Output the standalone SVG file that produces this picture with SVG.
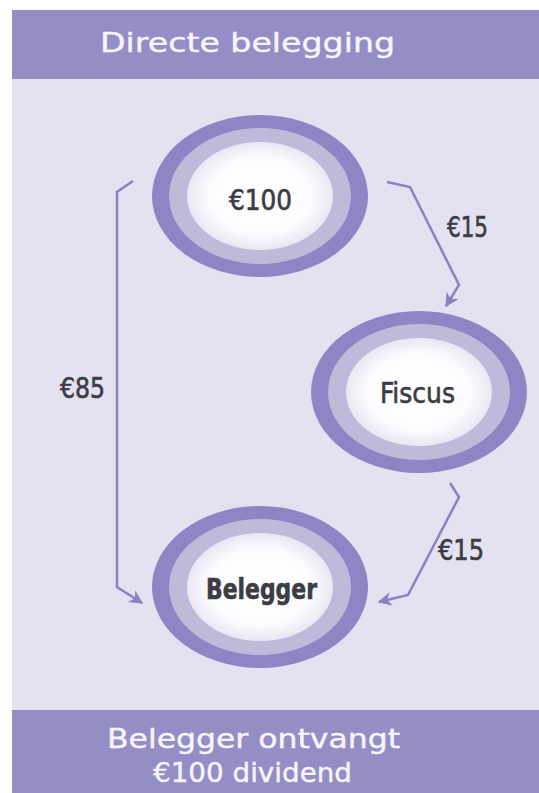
<svg xmlns="http://www.w3.org/2000/svg" width="539" height="793" viewBox="0 0 539 793">
  <style>
    .band { fill: #958dc5; }
    .bandtext { fill: #f6f5fb; stroke: #f6f5fb; stroke-width: 0.4; font-family: "DejaVu Sans", "Liberation Sans", sans-serif; font-size: 26px; }
    .ring1 { fill: #8e86c4; }
    .ring2 { fill: #bdbada; }
    .core { fill: url(#coreGrad); }
    .label { fill: #3c3c44; stroke: #3c3c44; stroke-width: 0.6; font-family: "Liberation Sans Narrow", "DejaVu Sans Condensed", "Liberation Sans", sans-serif; font-stretch: condensed; font-size: 29px; text-anchor: middle; }
    .amt { fill: #3c3c44; stroke: #3c3c44; stroke-width: 0.6; font-family: "Liberation Sans Narrow", "DejaVu Sans Condensed", "Liberation Sans", sans-serif; font-stretch: condensed; font-size: 28px; }
    .conn { fill: none; stroke: #8a83c2; stroke-width: 2.5; stroke-linejoin: miter; }
  </style>
  <defs>
    <radialGradient id="coreGrad" cx="0.5" cy="0.5" r="0.5">
      <stop offset="0" stop-color="#ffffff"/>
      <stop offset="0.7" stop-color="#fcfcfe"/>
      <stop offset="1" stop-color="#e9e7f4"/>
    </radialGradient>
    <marker id="arr" viewBox="0 0 10 10" refX="9" refY="5" markerWidth="15" markerHeight="14" markerUnits="userSpaceOnUse" orient="auto">
      <path d="M0,0 L10,5 L0,10 L3,5 z" fill="#8a83c2"/>
    </marker>
  </defs>

  <rect x="0" y="0" width="539" height="793" fill="#ffffff"/>
  <rect x="12" y="79" width="527" height="632" fill="#e4e2f0"/>

  <g id="header">
    <rect class="band" x="12" y="10" width="527" height="69"/>
    <text class="bandtext" x="100" y="52" textLength="295" lengthAdjust="spacingAndGlyphs">Directe belegging</text>
  </g>

  <g id="footer">
    <rect class="band" x="12" y="710" width="527" height="83"/>
    <text class="bandtext" x="107" y="748" textLength="293" lengthAdjust="spacingAndGlyphs">Belegger ontvangt</text>
    <text class="bandtext" x="153" y="782" textLength="199" lengthAdjust="spacingAndGlyphs">€100 dividend</text>
  </g>

  <g id="node-100">
    <ellipse class="ring1" cx="260" cy="196" rx="108" ry="81"/>
    <ellipse class="ring2" cx="260" cy="196" rx="91" ry="68"/>
    <ellipse class="core" cx="260" cy="196" rx="73" ry="54"/>
    <text class="label" x="260.5" y="210" textLength="63" lengthAdjust="spacingAndGlyphs">€100</text>
  </g>

  <g id="node-fiscus">
    <ellipse class="ring1" cx="419" cy="392" rx="108" ry="81"/>
    <ellipse class="ring2" cx="419" cy="392" rx="91" ry="68"/>
    <ellipse class="core" cx="419" cy="392" rx="73" ry="54"/>
    <text class="label" x="417.5" y="403" textLength="75" lengthAdjust="spacingAndGlyphs">Fiscus</text>
  </g>

  <g id="node-belegger">
    <ellipse class="ring1" cx="260" cy="587" rx="108" ry="81"/>
    <ellipse class="ring2" cx="260" cy="587" rx="91" ry="68"/>
    <ellipse class="core" cx="260" cy="587" rx="73" ry="54"/>
    <text class="label" x="261.5" y="599" font-weight="bold" stroke-width="0.2" textLength="111" lengthAdjust="spacingAndGlyphs">Belegger</text>
  </g>

  <g id="connectors">
    <path class="conn" d="M387,182 L410,187 L459,285 L446,306" marker-end="url(#arr)"/>
    <path class="conn" d="M133,181 L117,192 L117,587 L142,603" marker-end="url(#arr)"/>
    <path class="conn" d="M450,483 L459,497 L408,595 L379,602" marker-end="url(#arr)"/>
    <text class="amt" x="447" y="237" textLength="41" lengthAdjust="spacingAndGlyphs">€15</text>
    <text class="amt" x="60" y="398" textLength="45" lengthAdjust="spacingAndGlyphs">€85</text>
    <text class="amt" x="438" y="560" textLength="46" lengthAdjust="spacingAndGlyphs">€15</text>
  </g>
</svg>
